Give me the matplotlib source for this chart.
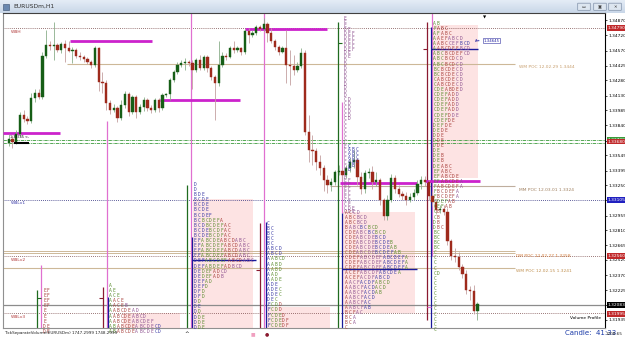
import numpy as np
import matplotlib.pyplot as plt
from matplotlib.patches import Rectangle, FancyBboxPatch

# ---- H1 candles (price); each open is the previous close
first_open = 1.3367
close = [1.3371, 1.3368, 1.3375, 1.3394, 1.3390, 1.3388, 1.3411, 1.3416, 1.3412, 1.3452,
         1.3463, 1.3462, 1.3463, 1.3458, 1.3464, 1.3460, 1.3457, 1.3458, 1.3452, 1.3451,
         1.3449, 1.3446, 1.3443, 1.3460, 1.3426, 1.3425, 1.3406, 1.3399, 1.3401, 1.3391,
         1.3404, 1.3415, 1.3397, 1.3412, 1.3397, 1.3402, 1.3409, 1.3401, 1.3399, 1.3409,
         1.3401, 1.3414, 1.3415, 1.3428, 1.3436, 1.3443, 1.3445, 1.3446, 1.3445, 1.3438,
         1.3448, 1.3440, 1.3451, 1.3440, 1.3431, 1.3425, 1.3443, 1.3452, 1.3451, 1.3460,
         1.3458, 1.3460, 1.3456, 1.3476, 1.3472, 1.3474, 1.3480, 1.3478, 1.3483, 1.3474,
         1.3467, 1.3461, 1.3456, 1.3460, 1.3443, 1.3442, 1.3438, 1.3442, 1.3455, 1.3377,
         1.3360, 1.3359, 1.3348, 1.3342, 1.3330, 1.3325, 1.3328, 1.3338, 1.3339, 1.3335,
         1.3342, 1.3348, 1.3350, 1.3333, 1.3322, 1.3337, 1.3338, 1.3328, 1.3330, 1.3311,
         1.3295, 1.3311, 1.3332, 1.3322, 1.3317, 1.3315, 1.3311, 1.3314, 1.3318, 1.3326,
         1.3330, 1.3328, 1.3315, 1.3309, 1.3301, 1.3302, 1.3299, 1.3271, 1.3256, 1.3255,
         1.3245, 1.3238, 1.3223, 1.3222, 1.3202, 1.3209]
high = [1.3375, 1.3374, 1.3379, 1.3397, 1.3399, 1.3393, 1.3416, 1.3420, 1.3420, 1.3456,
        1.3477, 1.3467, 1.3485, 1.3465, 1.3466, 1.3468, 1.3467, 1.3461, 1.3460, 1.3456,
        1.3453, 1.3451, 1.3448, 1.3462, 1.3461, 1.3436, 1.3428, 1.3409, 1.3405, 1.3403,
        1.3409, 1.3418, 1.3417, 1.3414, 1.3414, 1.3405, 1.3412, 1.3411, 1.3404, 1.3411,
        1.3411, 1.3416, 1.3416, 1.3430, 1.3438, 1.3446, 1.3448, 1.3450, 1.3448, 1.3448,
        1.3450, 1.3453, 1.3453, 1.3453, 1.3442, 1.3433, 1.3467, 1.3456, 1.3455, 1.3462,
        1.3467, 1.3462, 1.3461, 1.3478, 1.3479, 1.3477, 1.3482, 1.3482, 1.3489, 1.3485,
        1.3479, 1.3469, 1.3463, 1.3462, 1.3477, 1.3458, 1.3453, 1.3446, 1.3460, 1.3458,
        1.3394, 1.3374, 1.3362, 1.3355, 1.3345, 1.3335, 1.3332, 1.3340, 1.3345, 1.3342,
        1.3345, 1.3352, 1.3360, 1.3352, 1.3338, 1.3340, 1.3342, 1.3344, 1.3338, 1.3332,
        1.3313, 1.3316, 1.3336, 1.3335, 1.3325, 1.3320, 1.3319, 1.3318, 1.3322, 1.3330,
        1.3334, 1.3334, 1.3330, 1.3320, 1.3312, 1.3306, 1.3306, 1.3303, 1.3273, 1.3264,
        1.3260, 1.3248, 1.3242, 1.3226, 1.3227, 1.3211]
low = [1.3364, 1.3362, 1.3366, 1.3373, 1.3387, 1.3385, 1.3386, 1.3407, 1.3410, 1.3410,
       1.3450, 1.3458, 1.3448, 1.3456, 1.3455, 1.3446, 1.3456, 1.3445, 1.3450, 1.3448,
       1.3446, 1.3444, 1.3440, 1.3441, 1.3418, 1.3416, 1.3399, 1.3395, 1.3397, 1.3387,
       1.3389, 1.3401, 1.3393, 1.3395, 1.3391, 1.3395, 1.3398, 1.3398, 1.3396, 1.3397,
       1.3397, 1.3399, 1.3412, 1.3409, 1.3426, 1.3434, 1.3441, 1.3438, 1.3442, 1.3420,
       1.3436, 1.3438, 1.3438, 1.3436, 1.3428, 1.3389, 1.3422, 1.3441, 1.3448, 1.3450,
       1.3455, 1.3456, 1.3453, 1.3454, 1.3465, 1.3470, 1.3472, 1.3476, 1.3476, 1.3466,
       1.3465, 1.3458, 1.3453, 1.3455, 1.3425, 1.3423, 1.3433, 1.3436, 1.3440, 1.3374,
       1.3348, 1.3345, 1.3340, 1.3335, 1.3320, 1.3318, 1.3320, 1.3325, 1.3335, 1.3330,
       1.3332, 1.3338, 1.3342, 1.3325, 1.3317, 1.3318, 1.3332, 1.3322, 1.3324, 1.3306,
       1.3291, 1.3291, 1.3309, 1.3318, 1.3314, 1.3311, 1.3306, 1.3309, 1.3311, 1.3316,
       1.3322, 1.3324, 1.3311, 1.3305, 1.3297, 1.3298, 1.3296, 1.3267, 1.3252, 1.3250,
       1.3242, 1.3234, 1.3219, 1.3213, 1.3199, 1.3193]

# ---- price scale labels
price_ticks = [1.34870, 1.34720, 1.34570, 1.34425, 1.34280, 1.34130, 1.33985, 1.33840,
               1.33690, 1.33545, 1.33395, 1.33250, 1.33105, 1.32955, 1.32810, 1.32665,
               1.32520, 1.32370, 1.32225, 1.32080, 1.31935]
# boxes on the price scale: (price, text, colour)
scale_marks = [(1.3479, '1.34790', '#c0282a'), (1.3370, '1.33700', '#3a9a3a'),
               (1.3368, '1.33680', '#c0282a'), (1.3311, '1.33105', '#2020c0'),
               (1.3256, '1.32560', '#c0282a'), (1.3208, '1.32083', '#000000'),
               (1.3199, '1.31995', '#c0282a')]

# ---- market profiles (TPO letters): x start (bar), top price, row step, rows
p1_rows = ["EF", "EF", "EF", "EF", "E", "E", "E", "DE", "DE"]
p2_rows = ["A", "AE", "ACE", "AACE", "AACEB", "AABCDEAD", "AABCDEABCD", "AABCDEABCDEF",
           "ABABCDEABCDECD", "ABABCDEABCDECD"]
p3_rows = ["D", "D", "BDE", "BCDE", "BCDE", "BCDE", "BCDEF", "BCBCDEFA", "BCDBCDEFAC",
           "BCDEBCDFAC", "BCDEBCDFAC", "EFABCDEABCDABC", "EFABCDEFABCDABC", "EFABCDEFABCDABC",
           "EFABCDEFABCDABC", "DEFABCDEFABCDABC", "DEFABDEFADBCD", "DEDEFADCD", "DEDEFADB",
           "DEFAD", "DEFD", "DFD", "DFD", "DD", "DE", "DD", "DDE", "DDE", "DDE"]
p4_rows = ["C", "BC", "BC", "BC", "BC", "ABCD", "ABCD", "AABCD", "AABD", "AABD", "AAD",
           "AADE", "ADE", "ADEC", "ADEC", "DEC", "FCDD", "FCDD", "FCDED", "FCDEDF", "FCDEDF"]
p5_rows = ["E", "E", "E", "DE", "DEF", "DEF", "DEF", "DEF", "DEF", "DE", "DE", "D", "D", "D",
           "D", "D", "D", "D", "D", "D", "D", "CD", "CD", "CD", "CD", "CD", "CD", "C", "C", "C",
           "C", "C", "C", "FC", "FABC", "FABC", "FABC", "FABC", "FAB", "FB", "F", "F", "EF",
           "EF", "EF", "EF", "EF", "CE", "CE", "CDE", "CDE"]
p6_rows = ["ACCD", "ABCBCD", "ABCBCD", "BABCBCBCD", "CDEABCBCBCD", "CDEABCDEBCD",
           "CDEABCDEBCDEB", "CDEABCDEBCDEAB", "CDEABCDEBCDEFAB", "CDEFABCDEFABCDEFA",
           "CDEFABCDEFABCDEFA", "CDEFABCDEFABCDEFA", "ACEFABCDFABCDEA", "ACEFACDFABCD",
           "AACFACDFABCD", "AABCFACDACD", "AABCFACDAB", "AABCFACD", "AABCFAC", "AABCFAB",
           "BCFAC", "BCA", "BCA", "C"]
p7_rows = ["AB", "FABC", "AFABC", "AAEFABCD", "AABCCEFBCD", "AABCDEFBCD", "ABCBCDEFCD",
           "ABCBCDCD", "ABCBCDCD", "BCBCDECD", "BCBCDECD", "CABCDECD", "CABCDECD", "CDEABDED",
           "CDEFADD", "CDEFADD", "CDEFADD", "CDEFADD", "CDEFDDE", "CDEFDE", "DEFDE", "DEDE",
           "DDE", "DDE", "DDE", "DE", "DEB", "DEB", "DEABC", "EFABC", "EFABCDE", "EFABCDEA",
           "FABCDEFA", "FBCDEFA", "FBCDEFA", "CDEFAB", "CEFAB", "CB", "CB", "DB", "DBC", "BC",
           "BC", "BC", "BC", "C", "C", "C", "C", "CD", "C", "C", "C", "C", "C", "C", "C", "C",
           "C", "C", "C"]
profiles = [(9.2, 1.3222, 0.0005, p1_rows, 2), (26.8, 1.3227, 0.0005, p2_rows, 1),
            (49.4, 1.3326, 0.0005, p3_rows, 0), (68.9, 1.3288, 0.0005, p4_rows, 0),
            (89.4, 1.3489, 0.00038, p5_rows, 3), (89.7, 1.3298, 0.00049, p6_rows, 2),
            (113.2, 1.3484, 0.0005, p7_rows, 1)]
# value-area shading: x0, x1, price top, price bottom
value_areas = [(30.5, 45.7, 1.3200, 1.3180), (49.2, 65.2, 1.3312, 1.3180),
               (68.9, 85.7, 1.3206, 1.3180), (89.2, 108.4, 1.3299, 1.3200),
               (113.2, 125.2, 1.3482, 1.3332)]
tpo_colors = ['#3b3ba6', '#5a8c2e', '#a8403c', '#8e5290']

fig = plt.figure(figsize=(6.25, 3.37), dpi=100)
fig.patch.set_facecolor('white')

# window title bar
tb = fig.add_axes([0, 324 / 337, 1, 13 / 337])
tb.imshow(np.linspace(0, 1, 20).reshape(-1, 1), cmap=plt.cm.colors.LinearSegmentedColormap.from_list(
    'tb', ['#e4ecf6', '#c9d7e8']), aspect='auto', extent=[0, 625, 0, 13])
tb.set_xlim(0, 625)
tb.set_ylim(0, 13)
tb.axis('off')
tb.add_patch(Rectangle((3, 3.5), 6, 6, fc='#6a88b0', ec='#3a5070', lw=0.4))
tb.text(13, 6.5, 'EURUSDm,H1', fontsize=4.3, color='#303030', va='center')
for bx in (578, 594, 609):
    tb.add_patch(FancyBboxPatch((bx, 3), 12, 6.5, boxstyle='round,pad=0.3', fc='#dde6f0', ec='#8090a8', lw=0.5))
tb.text(584, 6, '▭', fontsize=3, ha='center', va='center', color='#333')
tb.text(600, 6, '▣', fontsize=3, ha='center', va='center', color='#333')
tb.text(615, 6, '✕', fontsize=3, ha='center', va='center', color='#333')

ax = fig.add_axes([3 / 625, 9 / 337, 602 / 625, 315 / 337])
ax.set_xlim(-1.5, 159.0)
ax.set_ylim(1.31853, 1.34940)
ax.set_facecolor('white')
for s in ['left', 'bottom']:
    ax.spines[s].set_color('#909090')
ax.spines['top'].set_color('#404040')
ax.spines['right'].set_color('#000000')
for s in ax.spines.values():
    s.set_linewidth(0.8)
ax.set_xticks([])
ax.yaxis.tick_right()
ax.set_yticks(price_ticks, labels=[f'{t:.5f}' for t in price_ticks])
ax.tick_params(axis='y', labelsize=3.2, length=1.5, width=0.5, pad=1, colors='#000000')
xmin, xmax = ax.get_xlim()
ytop, ybot = 1.34940, 1.31853

# value areas
for x0, x1, pt, pb in value_areas:
    ax.add_patch(Rectangle((x0, pb), x1 - x0, pt - pb, fc='#fde3e3', ec='none', zorder=0.5))

# horizontal levels
ax.hlines(1.3479, xmin, xmax, colors='#7a4a4a', linestyles=(0, (1, 1.5)), lw=0.6, zorder=1)
ax.hlines(1.3444, 15.6, 135.0, colors='#cdb898', lw=0.8, zorder=1)
ax.hlines([1.3370, 1.3367], xmin, xmax, colors='#3a9a3a', linestyles=(0, (4, 1, 1, 1)), lw=0.6, zorder=1)
ax.hlines(1.3324, 85.7, 135.0, colors='#bfae9e', lw=0.8, zorder=1)
ax.hlines(1.3311, xmin, xmax, colors='#2a2a7a', linestyles=(0, (1, 1.5)), lw=0.6, zorder=1)
ax.hlines([1.3261, 1.3259], xmin, 135.0, colors='#cdb898', lw=0.7, zorder=1)
ax.hlines(1.3256, xmin, xmax, colors='#7a4a4a', linestyles=(0, (1, 1.5)), lw=0.6, zorder=1)
ax.hlines(1.3244, xmin, 135.0, colors='#cdb898', lw=0.8, zorder=1)
ax.hlines(1.3208, xmin, xmax, colors='#8c8c8c', lw=0.9, zorder=1)
ax.hlines(1.3200, xmin, xmax, colors='#7a4a4a', linestyles=(0, (1, 1.5)), lw=0.6, zorder=1)

lbl = dict(fontsize=3.2, va='center', ha='left', zorder=5)
ax.text(0.5, 1.3475, 'WBH', color='#b03838', **lbl)
ax.text(0.5, 1.3308, 'WBLv1', color='#3a3aa8', **lbl)
ax.text(0.5, 1.3252, 'WBLv2', color='#b03838', **lbl)
ax.text(0.5, 1.3196, 'WBLv3', color='#b03838', **lbl)
ax.text(136.1, 1.3441, 'WM POC 12.02.29 1.3444', color='#c8a070', **lbl)
ax.text(136.1, 1.3321, 'MM POC 12.03.01 1.3324', color='#a08060', **lbl)
ax.text(135.3, 1.3256, 'DM POC 12.02.27 1.3258', color='#d07a3a', **lbl)
ax.text(135.3, 1.3241, 'WM POC 12.02.15 1.3241', color='#c09050', **lbl)
ax.text(153.7, 1.3195, 'Volume Profile', color='#000000', fontsize=3.2, ha='center', va='center', zorder=5)
ax.text(0.3, 1.3372, '1.33745 <-', color='#000000', fontsize=2.4, va='center', zorder=5)
ax.hlines(1.3367, 1.5, 5.5, colors='#000000', lw=1.5, zorder=5)
ax.text(126.5, 1.3467, '1.34645', color='#2020a0', fontsize=2.8, va='center', ha='left', zorder=6,
        bbox=dict(boxstyle='square,pad=0.15', fc='white', ec='#3030a0', lw=0.4))
ax.text(124.3, 1.3467, 'A→', color='#2020a0', fontsize=2.6, va='center', ha='left', zorder=6)
ax.text(126.8, 1.3490, '▼', fontsize=3, ha='center', va='center', color='black', zorder=6)

# vertical session lines: (bar, top, bottom, colour)
verticals = [(48.6, ytop, ybot, '#e070d0'), (26.2, 1.3388, ybot, '#e070d0'),
             (8.6, 1.3247, ybot, '#e070d0'), (68.1, ytop, ybot, '#e070d0'),
             (88.9, 1.3407, 1.3298, '#e070d0'), (113.0, ytop, 1.3256, '#e070d0'),
             (47.6, 1.3325, ybot, '#1f6b1f'), (87.8, 1.3485, ybot, '#1f6b1f'),
             (7.6, 1.3223, ybot, '#1f6b1f'), (25.2, 1.3225, ybot, '#8a1a30'),
             (67.0, 1.3288, ybot, '#8a1a30'), (111.6, 1.3485, 1.3193, '#8a1a30'),
             (26.6, 1.3216, ybot, '#1a1a9a'), (49.0, 1.3274, ybot, '#1a1a9a'),
             (68.6, 1.3289, ybot, '#1a1a9a'), (89.0, 1.3298, ybot, '#1a1a9a'),
             (112.6, 1.3480, ybot, '#1a1a9a')]
for xv, t, b, c in verticals:
    ax.vlines(xv, b, t, colors=c, lw=0.9, zorder=2)
ticks_small = [(110.6, 111.6, 1.3459, '#8a1a30'), (24.2, 25.2, 1.3215, '#8a1a30'),
               (66.0, 67.0, 1.3242, '#8a1a30'), (87.8, 88.8, 1.3465, '#1f6b1f'),
               (7.6, 8.6, 1.3215, '#1f6b1f'), (111.6, 112.6, 1.3206, '#e070d0')]
for a, b, yv, c in ticks_small:
    ax.hlines(yv, a, b, colors=c, lw=0.8, zorder=2)

# magenta range lines
for yv, a, b in [(1.3467, 16.4, 38.2), (1.3409, 40.4, 61.7), (1.3376, -1.5, 13.7),
                 (1.3478, 63.0, 84.9), (1.3327, 88.4, 108.9), (1.3329, 111.0, 125.7)]:
    ax.hlines(yv, a, b, colors='#cc22cc', lw=2.0, zorder=3)

# POC lines of profiles
ax.hlines(1.3252, 49.0, 66.0, colors='#1a1a9a', lw=1.0, zorder=3)
ax.hlines(1.3243, 89.0, 109.0, colors='#1a1a9a', lw=1.0, zorder=3)
ax.hlines(1.3459, 112.6, 125.2, colors='#1a1a9a', lw=1.0, zorder=3)

# TPO letters
for x0, top, step, rows, start in profiles:
    for r, row in enumerate(rows):
        ci = start
        prev = None
        for i, ch in enumerate(row):
            if prev is not None and ch <= prev:
                ci += 1
            prev = ch
            ax.text(x0 + i, top - r * step, ch, color=tpo_colors[ci % 4], fontsize=3.3,
                    ha='left', va='center', family='DejaVu Sans Mono', zorder=4)

# candles
opens = [first_open] + close[:-1]
xs = np.arange(len(close))
o = np.array(opens)
c = np.array(close)
up = c >= o
ax.vlines(xs[up], np.array(low)[up], np.array(high)[up], colors='#8aae8a', lw=0.6, zorder=3)
ax.vlines(xs[~up], np.array(low)[~up], np.array(high)[~up], colors='#c4a0a0', lw=0.6, zorder=3)
ax.bar(xs[up], (c - o)[up], bottom=o[up], width=0.6, color='#165e16', edgecolor='#165e16', lw=0.3, zorder=3.5)
ax.bar(xs[~up], (c - o)[~up], bottom=o[~up], width=0.6, color='#9e2a1c', edgecolor='#9e2a1c', lw=0.3, zorder=3.5)

# boxes on price scale
for pv, txt, col in scale_marks:
    ax.text(1.004, pv, txt, transform=ax.get_yaxis_transform(), fontsize=3.2, color='white',
            va='center', ha='left', clip_on=False, zorder=10,
            bbox=dict(boxstyle='square,pad=0.2', fc=col, ec='none'))

# status bar
fig.text(4 / 625, 3 / 337, 'TickSeparateVolume(EURUSDm) 1747.2999 1748.2999', fontsize=3.0, color='#202020')
fig.text(187 / 625, 2 / 337, '^', fontsize=4, color='#000000', ha='center')
fig.text(253 / 625, 2 / 337, '■', fontsize=3.5, color='#f0a0c0', ha='center')
fig.text(267 / 625, 2 / 337, '●', fontsize=3.5, color='#8a1a30', ha='center')
fig.text(565 / 625, 2 / 337, 'Candle:  41:33', fontsize=5, color='#1a3aa8')
fig.text(606 / 625, 2 / 337, '1208.65', fontsize=3.0, color='#202020')

fig.savefig('out.png', dpi=100)
